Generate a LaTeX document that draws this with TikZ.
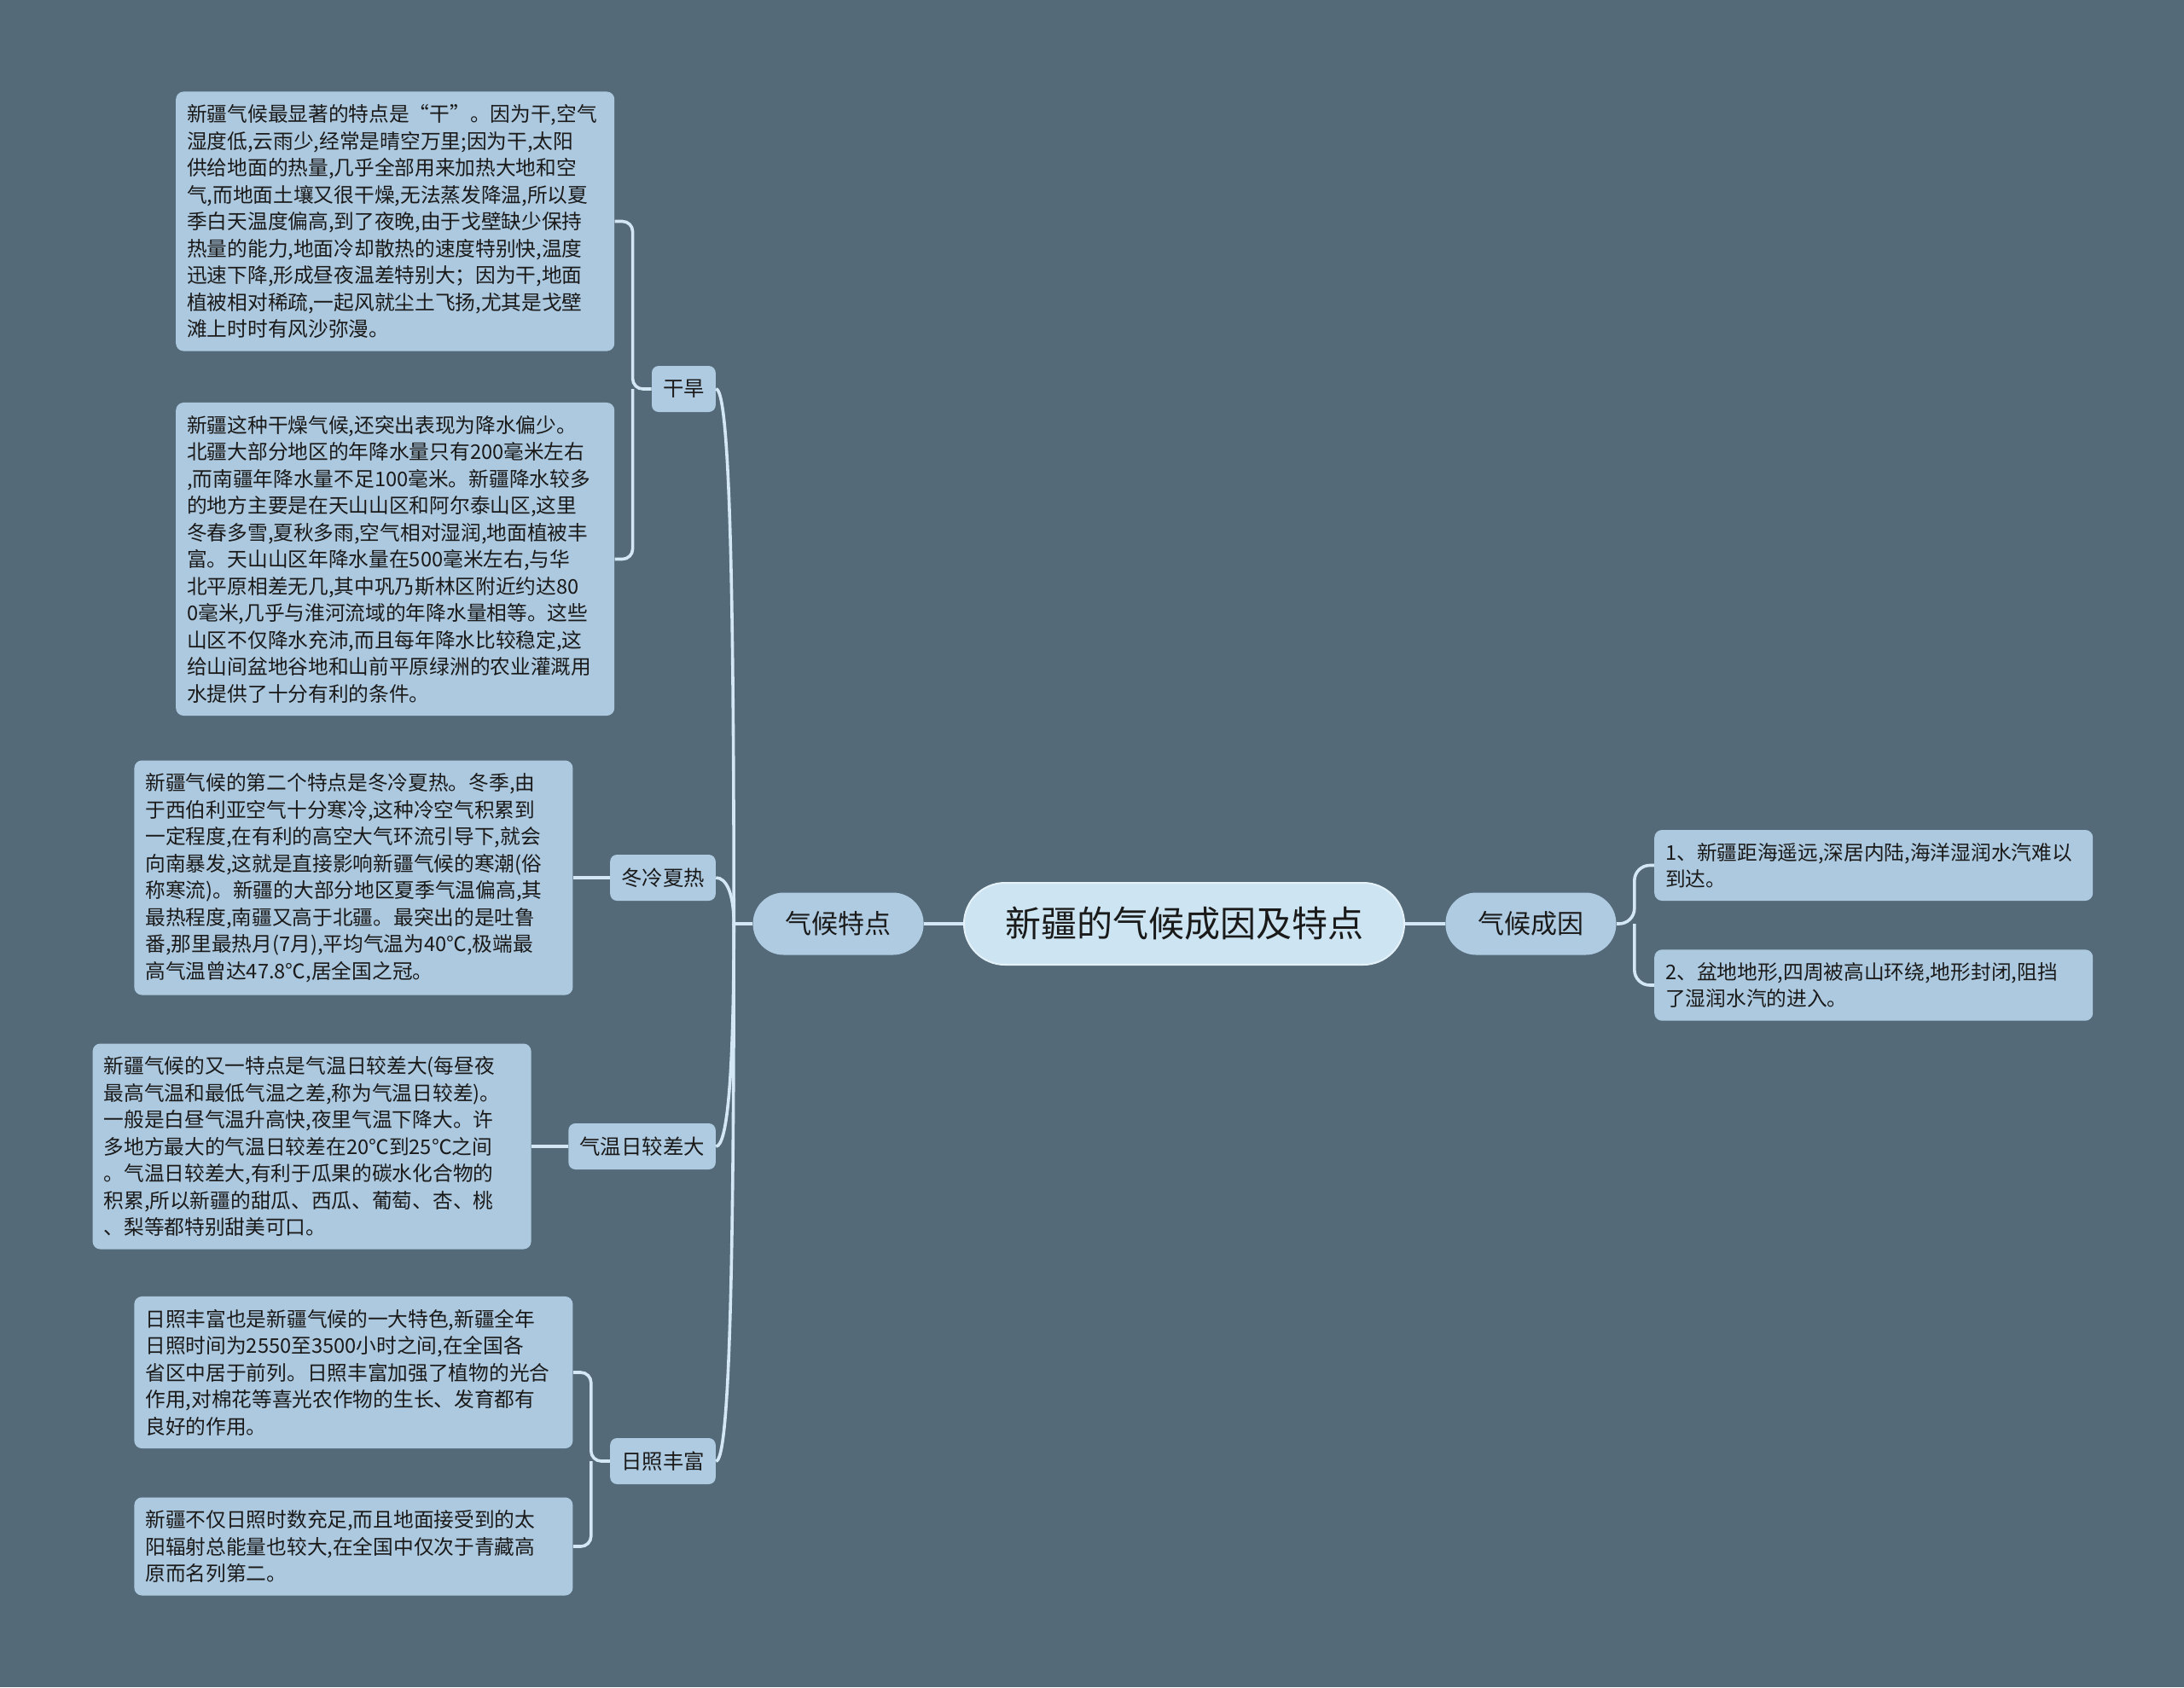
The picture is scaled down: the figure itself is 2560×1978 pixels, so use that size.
\documentclass[tikz,border=0pt]{standalone}
\usepackage{fontspec}
\setmainfont{Noto Sans CJK SC}
\usepackage{tikz}
\usetikzlibrary{positioning}
\usepackage{xcolor}
\definecolor{bgslate}{HTML}{546A79}
\definecolor{rootfill}{HTML}{CDE5F2}
\definecolor{rootline}{HTML}{E4F1F8}
\definecolor{catfill}{HTML}{AFCBE1}
\definecolor{leaffill}{HTML}{ADC9DF}
\definecolor{linkc}{HTML}{D3E8F4}
\definecolor{inkc}{HTML}{1A1A1A}

\begin{document}
\begin{tikzpicture}[
  x=0.5pt, y=0.5pt,
  topic/.style={draw=rootline, line width=1pt, fill=rootfill, rounded corners=24pt,
               minimum width=258pt, minimum height=48pt, text=inkc,
               font=\fontsize{21}{24}\selectfont},
  branch/.style={fill=catfill, rounded corners=18pt, minimum width=100pt,
               minimum height=36.5pt, text=inkc, font=\fontsize{15.5}{18}\selectfont},
  twig/.style={fill=catfill, rounded corners=4pt, inner xsep=6.5pt,
               minimum height=27pt, text=inkc, font=\fontsize{12.2}{14}\selectfont},
  leaf/.style={fill=leaffill, rounded corners=4.5pt, text width=244pt,
               inner xsep=6.5pt, inner ysep=7.5pt, align=left, text=inkc,
               font=\fontsize{11.85}{15.75}\selectfont},
  link/.style={draw=linkc, line width=1.8pt},
  node distance=21.5pt
]
  % Canvas
  \fill[bgslate] (0,0) rectangle (2560,-1978);
  \useasboundingbox (0,0) rectangle (2560,-1978);

  % Centre and main branches
  \node[topic] (root) at (1388,-1083) {新疆的气候成因及特点};
  \node[branch, left=23pt of root] (trait) {气候特点};
  \node[branch, right=23.5pt of root] (cause) {气候成因};

  % Features
  \node[twig, left=21.5pt of trait, yshift=313.5pt] (drought) {干旱};
  \node[twig, left=21.5pt of trait, yshift=27pt] (coldhot) {冬冷夏热};
  \node[twig, left=21.5pt of trait, yshift=-130.5pt] (tempdiff) {气温日较差大};
  \node[twig, left=21.5pt of trait, yshift=-315pt] (sunny) {日照丰富};

  % Texts of the features
  \node[leaf, left=of drought, yshift=98.25pt] (dry1) {新疆气候最显著的特点是“干”。因为干,空气\\
    湿度低,云雨少,经常是晴空万里;因为干,太阳\\
    供给地面的热量,几乎全部用来加热大地和空\\
    气,而地面土壤又很干燥,无法蒸发降温,所以夏\\
    季白天温度偏高,到了夜晚,由于戈壁缺少保持\\
    热量的能力,地面冷却散热的速度特别快,温度\\
    迅速下降,形成昼夜温差特别大；因为干,地面\\
    植被相对稀疏,一起风就尘土飞扬,尤其是戈壁\\
    滩上时时有风沙弥漫。};
  \node[leaf, left=of drought, yshift=-99.75pt] (dry2) {新疆这种干燥气候,还突出表现为降水偏少。\\
    北疆大部分地区的年降水量只有200毫米左右\\
    ,而南疆年降水量不足100毫米。新疆降水较多\\
    的地方主要是在天山山区和阿尔泰山区,这里\\
    冬春多雪,夏秋多雨,空气相对湿润,地面植被丰\\
    富。天山山区年降水量在500毫米左右,与华\\
    北平原相差无几,其中巩乃斯林区附近约达80\\
    0毫米,几乎与淮河流域的年降水量相等。这些\\
    山区不仅降水充沛,而且每年降水比较稳定,这\\
    给山间盆地谷地和山前平原绿洲的农业灌溉用\\
    水提供了十分有利的条件。};
  \node[leaf, left=of coldhot] (cold1) {新疆气候的第二个特点是冬冷夏热。冬季,由\\
    于西伯利亚空气十分寒冷,这种冷空气积累到\\
    一定程度,在有利的高空大气环流引导下,就会\\
    向南暴发,这就是直接影响新疆气候的寒潮(俗\\
    称寒流)。新疆的大部分地区夏季气温偏高,其\\
    最热程度,南疆又高于北疆。最突出的是吐鲁\\
    番,那里最热月(7月),平均气温为40℃,极端最\\
    高气温曾达47.8℃,居全国之冠。};
  \node[leaf, left=of tempdiff] (temp1) {新疆气候的又一特点是气温日较差大(每昼夜\\
    最高气温和最低气温之差,称为气温日较差)。\\
    一般是白昼气温升高快,夜里气温下降大。许\\
    多地方最大的气温日较差在20℃到25℃之间\\
    。气温日较差大,有利于瓜果的碳水化合物的\\
    积累,所以新疆的甜瓜、西瓜、葡萄、杏、桃\\
    、梨等都特别甜美可口。};
  \node[leaf, left=of sunny, yshift=52pt] (sun1) {日照丰富也是新疆气候的一大特色,新疆全年\\
    日照时间为2550至3500小时之间,在全国各\\
    省区中居于前列。日照丰富加强了植物的光合\\
    作用,对棉花等喜光农作物的生长、发育都有\\
    良好的作用。};
  \node[leaf, left=of sunny, yshift=-50pt] (sun2) {新疆不仅日照时数充足,而且地面接受到的太\\
    阳辐射总能量也较大,在全国中仅次于青藏高\\
    原而名列第二。};

  % Causes
  \node[leaf, right=22pt of cause, yshift=34.25pt] (why1) {1、新疆距海遥远,深居内陆,海洋湿润水汽难以\\
    到达。};
  \node[leaf, right=22pt of cause, yshift=-36pt] (why2) {2、盆地地形,四周被高山环绕,地形封闭,阻挡\\
    了湿润水汽的进入。};

  % Junctions
  \coordinate[left=11pt of trait] (traitj);
  \coordinate[left=11pt of drought] (droughtj);
  \coordinate[left=11pt of sunny] (sunnyj);
  \coordinate[right=10.5pt of cause] (causej);

  % Edges
  \draw[link] (root) -- (trait);
  \draw[link] (root) -- (cause);
  \draw[link] (trait) -- (traitj) to[out=90, in=0, out distance=200pt, in distance=8pt] (drought.east);
  \draw[link] (traitj) to[out=90, in=0, out distance=18pt, in distance=6pt] (coldhot.east);
  \draw[link] (traitj) to[out=270, in=0, out distance=85pt, in distance=7pt] (tempdiff.east);
  \draw[link] (traitj) to[out=270, in=0, out distance=200pt, in distance=8pt] (sunny.east);
  \draw[link, rounded corners=6pt] (drought) -- (droughtj) |- (dry1.east);
  \draw[link, rounded corners=6pt] (droughtj) |- (dry2.east);
  \draw[link] (coldhot) -- (cold1);
  \draw[link] (tempdiff) -- (temp1);
  \draw[link, rounded corners=6pt] (sunny) -- (sunnyj) |- (sun1.east);
  \draw[link, rounded corners=6pt] (sunnyj) |- (sun2.east);
  \draw[link, rounded corners=9pt] (cause) -- (causej) |- (why1.west);
  \draw[link, rounded corners=9pt] (causej) |- (why2.west);
\end{tikzpicture}
\end{document}
